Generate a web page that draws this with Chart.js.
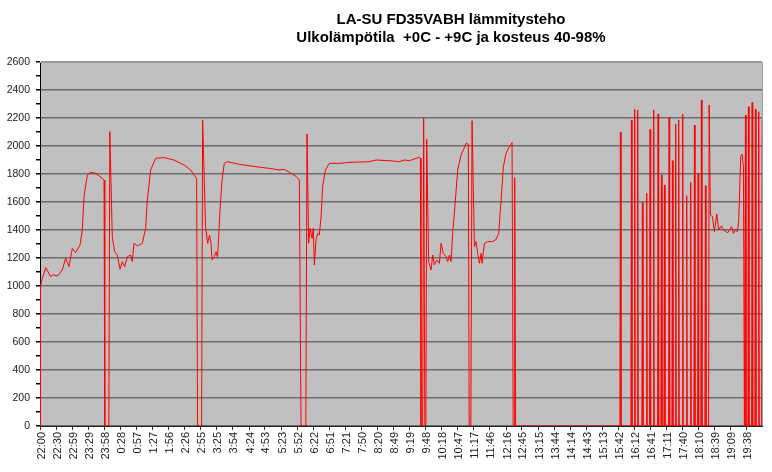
<!DOCTYPE html>
<html>
<head>
<meta charset="utf-8">
<script src="https://cdn.jsdelivr.net/npm/chart.js@4/dist/chart.umd.min.js"></script>
<style>
	body { margin: 0; background: #fff; }
</style>
</head>
<body>
<canvas id="myChart" width="772" height="472"></canvas>
<script>
const TITLE_LINES	= [ "LA-SU FD35VABH lämmitysteho", "Ulkolämpötila  +0C - +9C ja kosteus 40-98%" ];

const TICK_LABELS	= [ "22:00", "22:30", "22:59", "23:29", "23:58", "0:28", "0:57", "1:27", "1:56", "2:26",
	"2:55", "3:25", "3:54", "4:24", "4:53", "5:23", "5:52", "6:22", "6:51", "7:21",
	"7:50", "8:20", "8:49", "9:19", "9:48", "10:18", "10:47", "11:17", "11:46", "12:16",
	"12:45", "13:15", "13:44", "14:14", "14:43", "15:13", "15:42", "16:12", "16:41", "17:11",
	"17:40", "18:10", "18:39", "19:09", "19:38" ];

// minutes after 22:00
const TIMES	= [
	0, 1, 3.7, 10.7, 19.5, 24.4, 31.8, 41, 47, 53.3, 59.3, 65.4, 73.5, 77.7, 80.8, 86.9, 93, 102.1, 114.4, 117.6,
	119, 126.4, 128.2, 132.8, 137, 142, 147, 151.2, 155.4, 160.4, 166.4, 169.5, 172.7, 178.7, 187.9, 194, 197.1, 203.2, 212.3, 227.8,
	246.1, 264.5, 276.6, 282.9, 287.7, 289.3, 296.8, 298.7, 304, 307.9, 311.4, 314.1, 316, 320.2, 323.3, 326.2, 330.6, 334.3, 338.5, 344.6,
	366.1, 396.8, 421.2, 439.6, 448.8, 458, 470.2, 476.3, 479.4, 488.2, 490.4, 493.4, 496, 499.6, 502, 503.9, 507, 509.9, 513, 516.2,
	519.1, 524.1, 531.4, 549.8, 568.2, 604.9, 617.2, 641.6, 660, 669.2, 678.4, 690.7, 696.7, 698.6, 699.7, 702.8, 704.6, 706.8, 708.7, 710.2,
	713.8, 718.2, 721.2, 724.3, 728.5, 733.5, 736.6, 740.8, 745.8, 748.7, 751.8, 755, 757.9, 762.9, 767.1, 773.3, 777.6, 782.5, 786.7, 788.2,
	791.3, 793.5, 797.8, 800.9, 803.8, 807, 810.1, 811.9, 816.2, 822.2, 831.4, 837.6, 842.4, 846.8, 851, 856, 862, 867, 869, 870.7,
	871.8, 873.6, 1065,
	1066, 1067, 1085.2, 1086.2, 1087.2, 1091.2, 1092.2, 1093.2, 1096.7, 1097.7, 1098.7, 1105.4, 1106.4, 1107.4, 1113.3, 1114.3, 1115.3,
	1119.5, 1120.5, 1121.5, 1126.1, 1127.1, 1128.1, 1134.2, 1135.2, 1136.2, 1140.3, 1141.3, 1142.3, 1145.8, 1146.8, 1147.8,
	1154.4, 1155.4, 1156.4, 1160.5, 1161.5, 1162.5, 1166.5, 1167.5, 1168.5, 1172, 1173, 1174, 1179.4, 1180.4, 1181.4,
	1186.7, 1187.7, 1188.7, 1194.1, 1195.1, 1196.1, 1200.9, 1201.9, 1202.9, 1207.7, 1208.7, 1209.7, 1213.7, 1214.7, 1215.7,
	1221.1, 1222.1, 1223.1, 1227.9, 1228.9,
	1231.3, 1235, 1238.6, 1242.9, 1246.5, 1251.5, 1255.2, 1263.1, 1270.4, 1273.5, 1277.2, 1280.9, 1283.2, 1286.9, 1289.5, 1291.9, 1293.7,
	1294.6, 1295.6, 1296.6, 1300.1, 1301.1, 1302.1, 1306.9, 1307.9, 1308.9, 1312.9, 1313.9, 1314.9, 1319, 1320, 1321, 1325.3, 1326.3
];

const POWER	= [
	0, 1000, 1048, 1132, 1067, 1080, 1071, 1114, 1198, 1138, 1269, 1238, 1293, 1400, 1638, 1793, 1812, 1805, 1769, 1757,
	0, 0, 2102, 1352, 1245, 1221, 1119, 1174, 1138, 1209, 1221, 1174, 1305, 1286, 1305, 1412, 1614, 1829, 1912, 1917,
	1900, 1864, 1829, 1793, 1769, 0, 0, 2186, 1424, 1305, 1364, 1305, 1186, 1209, 1245, 1209, 1543, 1757, 1876, 1888,
	1869, 1852, 1840, 1829, 1833, 1812, 1783, 1757, 0, 0, 2086, 1305, 1412, 1340, 1412, 1150, 1329, 1376, 1364, 1495,
	1710, 1829, 1876, 1876, 1883, 1888, 1900, 1895, 1888, 1900, 1895, 1912, 1919, 1912, 0, 0, 2198, 0, 0, 2048,
	1174, 1114, 1221, 1150, 1186, 1162, 1305, 1233, 1209, 1174, 1221, 1174, 1376, 1614, 1829, 1936, 1971, 2019, 2012, 0,
	0, 2181, 1281, 1317, 1233, 1162, 1233, 1162, 1305, 1317, 1317, 1333, 1376, 1614, 1852, 1948, 1995, 2024, 0, 0,
	1774, 0, 0,
	2100, 0, 0, 2186, 0, 0, 2262, 0, 0, 2257, 0, 0, 1595, 0, 0, 1662, 0,
	0, 2119, 0, 0, 2257, 0, 0, 2229, 0, 0, 1793, 0, 0, 1721, 0,
	0, 2205, 0, 0, 1895, 0, 0, 2157, 0, 0, 2186, 0, 0, 2229, 0,
	0, 1645, 0, 0, 1740, 0, 0, 2150, 0, 0, 1805, 0, 0, 2329, 0,
	0, 1717, 0, 0, 2293,
	1507, 1496, 1388, 1514, 1400, 1429, 1400, 1381, 1424, 1376, 1400, 1388, 1462, 1926, 1943, 1852, 0,
	0, 2221, 0, 0, 2281, 0, 0, 2310, 0, 0, 2262, 0, 0, 2245, 0, 0, 2190
];

const X_MAX	= 1326;

function labelMinutes( label ) {
	let [ h, m ]	= label.split( ":" ).map( Number );
	return ( h * 60 + m - 22 * 60 + 1440 ) % 1440;
}

const plotBg = {
	id: "plotBg",
	beforeDraw( chart ) {
		let ctx	= chart.ctx;
		let a	= chart.chartArea;
		ctx.save();
		ctx.fillStyle	= "#c0c0c0";
		ctx.fillRect( a.left, a.top, a.right - a.left, a.bottom - a.top );
		ctx.restore();
	},
	afterDraw( chart ) {
		let ctx	= chart.ctx;
		let a	= chart.chartArea;
		ctx.save();
		ctx.strokeStyle	= "#9a9a9a";
		ctx.lineWidth	= 1;
		ctx.beginPath();
		ctx.moveTo( a.left, a.top + 0.5 );
		ctx.lineTo( Math.round( a.right ) + 0.5, a.top + 0.5 );
		ctx.lineTo( Math.round( a.right ) + 0.5, a.bottom );
		ctx.stroke();

		ctx.fillStyle		= "#000";
		ctx.font		= "bold 15px 'Liberation Sans', Arial, sans-serif";
		ctx.textAlign		= "center";
		ctx.textBaseline	= "middle";
		ctx.fillText( TITLE_LINES[ 0 ], 451, 20 );
		ctx.fillText( TITLE_LINES[ 1 ], 451, 38 );
		ctx.restore();
	}
};

let data	= TIMES.map( ( t, i ) => ( { x: t, y: POWER[ i ] } ) );

new Chart( document.getElementById( "myChart" ), {
	type: "line",
	data: {
		datasets: [ {
			data: data,
			borderColor: "#ff0000",
			borderWidth: 1,
			pointRadius: 0,
			tension: 0,
			fill: false
		} ]
	},
	options: {
		responsive: false,
		animation: false,
		layout: { padding: { top: 62, right: 10, left: 0, bottom: 0 } },
		plugins: {
			legend: { display: false },
			tooltip: { enabled: false }
		},
		scales: {
			x: {
				type: "linear",
				min: 0,
				max: X_MAX,
				afterBuildTicks: s => {
					s.ticks = TICK_LABELS.map( l => ( { value: labelMinutes( l ) } ) );
				},
				afterFit: s => { s.height = 46; },
				border: { color: "#222", width: 1 },
				grid: { drawOnChartArea: false, tickLength: 4, tickColor: "#333" },
				ticks: {
					autoSkip: false,
					minRotation: 90,
					maxRotation: 90,
					padding: 2,
					labelOffset: 1.5,
					color: "#222",
					font: { family: "'Liberation Sans', Arial, sans-serif", size: 11 },
					callback: ( v, i ) => TICK_LABELS[ i ]
				}
			},
			y: {
				min: 0,
				max: 2600,
				afterFit: s => { s.width = 40; },
				border: { color: "#000", width: 1 },
				grid: {
					color: c => c.tick.value % 200 ? "transparent" : ( c.tick.value == 2600 ? "#9a9a9a" : "#6c6c6c" ),
					lineWidth: 1.5,
					tickLength: 4,
					tickColor: "#000"
				},
				ticks: {
					stepSize: 100,
					autoSkip: false,
					padding: 6,
					color: "#222",
					font: { family: "'Liberation Sans', Arial, sans-serif", size: 10.5 },
					callback: v => v % 200 ? "" : v
				}
			}
		}
	},
	plugins: [ plotBg ]
} );
</script>
</body>
</html>
